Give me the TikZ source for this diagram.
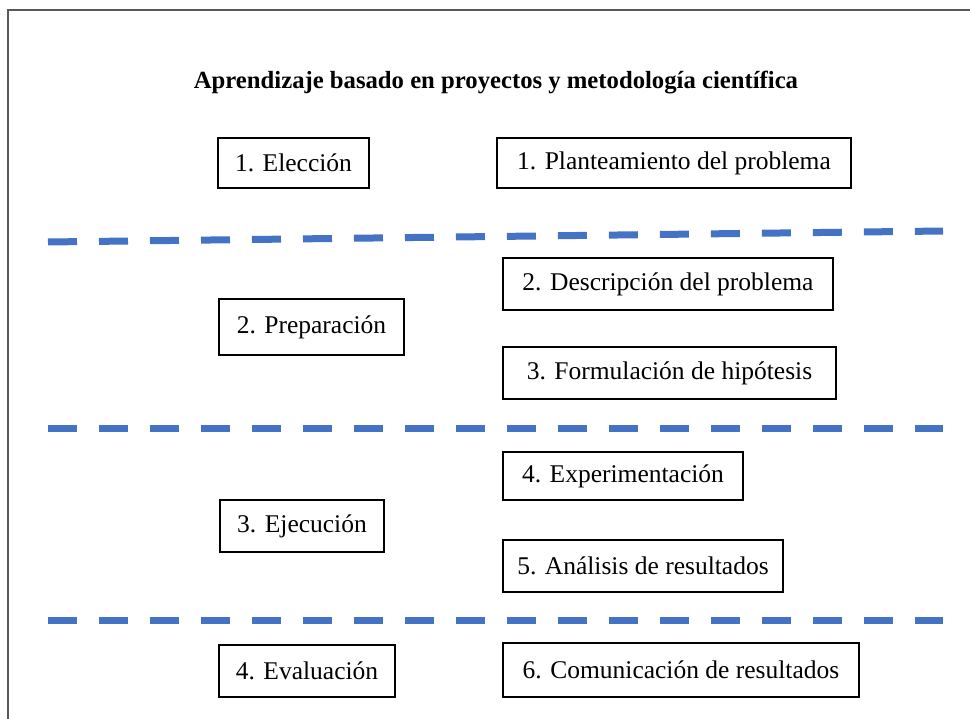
\documentclass[tikz,border=0pt]{standalone}
\usepackage{fontspec}
\setmainfont{Liberation Serif}
\usepackage{tikz}
\usetikzlibrary{shapes,arrows}
\definecolor{sepblue}{RGB}{68,114,196}
\tikzset{
	stage/.style={draw=black, line width=1.3pt, inner sep=0pt, minimum height=50pt, font=\fontsize{25.5}{30}\selectfont},
	sepline/.style={sepblue, line width=7pt, dash pattern=on 29pt off 22pt}
}
\begin{document}
\begin{tikzpicture}[x=1pt,y=-1pt]
		\useasboundingbox (0,0) rectangle (970,719);
		\draw[gray!70!black, line width=1.5pt] (8,719) -- (8,10) -- (970,10);
		\node (titulo) at (496,83) {\fontsize{24.7}{29}\selectfont\bfseries Aprendizaje basado en proyectos y metodología científica};
		\node[stage, minimum width=151pt] (eleccion) at (293.5,163) {1. Elección};
		\node[stage, minimum width=354pt] (planteamiento) at (674,163) {1. Planteamiento del problema};
		\draw[sepline] (48,242) -- (943,231);
		\node[stage, minimum width=330pt, minimum height=52pt] (descripcion) at (668,284) {2. Descripción del problema};
		\node[stage, minimum width=185pt, minimum height=56pt] (preparacion) at (311.5,327) {2. Preparación};
		\node[stage, minimum width=333pt, minimum height=52pt] (formulacion) at (669.5,373) {3. Formulación de hipótesis};
		\foreach \y in {429,620}
			\draw[sepline] (48,\y) -- (943,\y);
		\node[stage, minimum width=240pt, minimum height=48pt] (experimentacion) at (623,476) {4. Experimentación};
		\node[stage, minimum width=164pt, minimum height=52pt] (ejecucion) at (302,526) {3. Ejecución};
		\node[stage, minimum width=280pt, minimum height=52pt] (analisis) at (643,566) {5. Análisis de resultados};
		\node[stage, minimum width=176pt, minimum height=52pt] (evaluacion) at (307,671) {4. Evaluación};
		\node[stage, minimum width=356pt, minimum height=54pt] (comunicacion) at (681,670) {6. Comunicación de resultados};
	\end{tikzpicture}
\end{document}
